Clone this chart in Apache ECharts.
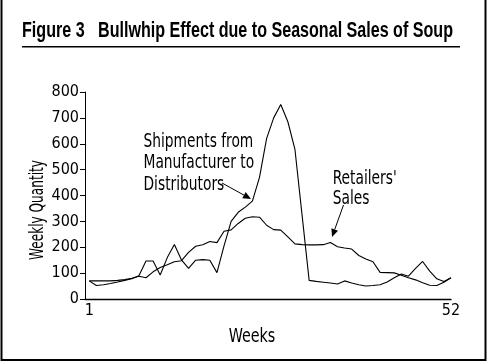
<!DOCTYPE html>
<html><head><meta charset="utf-8">
<script src="https://cdn.jsdelivr.net/npm/echarts@6/dist/echarts.min.js"></script>
<style>html,body{margin:0;padding:0;background:#fff}#c{width:488px;height:362px}</style>
</head><body><div id="c"></div>
<script>
// ---- data ----
const weeks = [1,2,3,4,5,6,7,8,9,10,11,12,13,14,15,16,17,18,19,20,21,22,23,24,25,26,
  27,28,29,30,31,32,33,34,35,36,37,38,39,40,41,42,43,44,45,46,47,48,49,50,51,52];
const shipments = [70,52,55,60,66,72,78,90,147,147,93,160,211,151,118,150,152,150,102,205,
  300,335,355,378,470,620,700,752,685,578,325,72,68,65,62,58,70,62,55,50,52,55,66,82,97,88,
  118,145,108,78,68,82];
const retailerSales = [70,70,70,70,72,75,80,88,82,105,122,132,144,148,180,204,210,222,218,262,
  267,292,312,318,316,285,268,266,240,213,210,209,209,210,218,202,197,193,168,155,144,103,
  102,101,92,82,74,63,53,52,65,82];
const xTickLabels = [1, 52];
const yMin = 0, yMax = 800, yStep = 100;
const titleText = 'Figure 3   Bullwhip Effect due to Seasonal Sales of Soup';
const xName = 'Weeks';
const yName = 'Weekly Quantity';
const shipNote = ['Shipments from', 'Manufacturer to', 'Distributors'];
const retNote = ["Retailers'", 'Sales'];

// ---- fonts ----
const ctx = document.createElement('canvas').getContext('2d');
function fontAvailable(name){
  const t='mmmmmmmmmmlli0123456789WQ';
  ctx.font='40px monospace'; const a=ctx.measureText(t).width;
  ctx.font='40px "'+name+'", monospace'; const b=ctx.measureText(t).width;
  return a!==b;
}
const hasNarrow = fontAvailable('Liberation Sans Narrow');
const NARROW = hasNarrow ? 'Liberation Sans Narrow' : 'DejaVu Sans Condensed';
const tickSize = hasNarrow ? 19 : 16;
function measure(text, size, family, weight){
  ctx.font = (weight||'normal')+' '+size+'px "'+family+'"';
  return ctx.measureText(text).width;
}
function fitText(lines, x, yMid, lineGap, size, family, weight, targetW, idx){
  const w = measure(lines[idx], size, family, weight);
  const s = targetW / w;
  return lines.map((t,i)=>({
    type:'text', x:x, y:yMid + i*lineGap, scaleX:s, silent:true,
    style:{text:t, fontSize:size, fontFamily:family, fontWeight:weight||'normal',
      fill:'#000', align:'left', verticalAlign:'middle'}
  }));
}
function arrow(x1,y1,x2,y2){
  const ang=Math.atan2(y2-y1,x2-x1), L=8, H=3.5;
  const bx=x2-L*Math.cos(ang), by=y2-L*Math.sin(ang);
  const px=-Math.sin(ang)*H, py=Math.cos(ang)*H;
  return [
    {type:'line', silent:true, shape:{x1:x1,y1:y1,x2:bx,y2:by}, style:{stroke:'#000', lineWidth:1}},
    {type:'polygon', silent:true, shape:{points:[[x2,y2],[bx+px,by+py],[bx-px,by-py]]}, style:{fill:'#000'}}
  ];
}

const graphics = [];
// border (no top edge)
graphics.push({type:'polyline', silent:true, shape:{points:[[1.5,0],[1.5,360],[485.5,360],[485.5,0]]},
  style:{stroke:'#000', lineWidth:2, fill:null}});
// title + underline
graphics.push(...fitText([titleText], 22, 31, 0, 22, 'Liberation Sans', 'bold', 431, 0));
graphics.push({type:'line', silent:true, shape:{x1:22,y1:46.7,x2:460,y2:46.7}, style:{stroke:'#000', lineWidth:1.5}});
// annotations
graphics.push(...fitText(shipNote, 143.5, 142, 21.2, 20, NARROW, 'normal', 110.6, 1));
graphics.push(...fitText(retNote, 332.7, 178.5, 20.5, 20, NARROW, 'normal', 64, 0));
graphics.push(...arrow(222,183,251,199));
graphics.push(...arrow(343.5,205,332,237));
// axis names
(function(){
  const w = measure(xName, 20, NARROW); const s = 46.7/w;
  graphics.push({type:'text', x:252, y:336.5, scaleX:s, silent:true,
    style:{text:xName, fontSize:20, fontFamily:NARROW, fill:'#000', align:'center', verticalAlign:'middle'}});
  const w2 = measure(yName, 20, NARROW); const s2 = 100/w2;
  graphics.push({type:'text', x:37.5, y:210, rotation:Math.PI/2, scaleX:s2, silent:true,
    style:{text:yName, fontSize:20, fontFamily:NARROW, fill:'#000', align:'center', verticalAlign:'middle'}});
})();

const chart = echarts.init(document.getElementById('c'), null, {renderer:'canvas'});
chart.setOption({
  animation:false,
  backgroundColor:'#fff',
  grid:{left:85, right:37, top:92, bottom:63, containLabel:false},
  xAxis:{type:'value', min:0.4, max:52,
    axisLine:{show:true, lineStyle:{color:'#000', width:1.3}},
    axisTick:{show:false}, splitLine:{show:false},
    axisLabel:{customValues:xTickLabels, color:'#000', fontSize:tickSize, fontFamily:NARROW, margin:4}},
  yAxis:{type:'value', min:yMin, max:yMax, interval:yStep,
    axisLine:{show:true, lineStyle:{color:'#000', width:1}},
    axisTick:{show:true, inside:false, length:5, lineStyle:{color:'#000', width:1}},
    splitLine:{show:false},
    axisLabel:{color:'#000', fontSize:tickSize, fontFamily:NARROW, margin:6}},
  series:[
    {name:'Shipments from Manufacturer to Distributors', type:'line', showSymbol:false, silent:true,
      data:weeks.map((w,i)=>[w, shipments[i]]), lineStyle:{color:'#000', width:1.1}},
    {name:"Retailers' Sales", type:'line', showSymbol:false, silent:true,
      data:weeks.map((w,i)=>[w, retailerSales[i]]), lineStyle:{color:'#000', width:1.1}}
  ],
  graphic:graphics
});
</script></body></html>
